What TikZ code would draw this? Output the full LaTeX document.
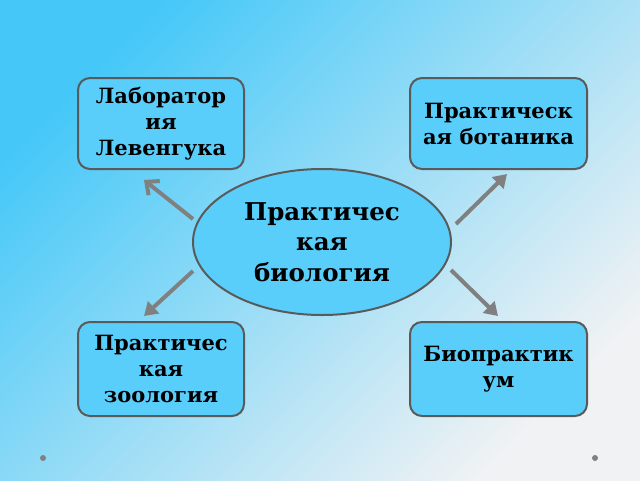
\documentclass[tikz,border=0pt]{standalone}
\usepackage{fontspec}
\setmainfont{DejaVu Serif}
\usetikzlibrary{arrows.meta, shapes.geometric}

\definecolor{bgblue}{RGB}{69,200,248}
\definecolor{bgwhite}{RGB}{240,242,244}
\definecolor{boxblue}{RGB}{90,206,250}
\definecolor{edgegray}{RGB}{90,90,90}
\definecolor{arrowgray}{RGB}{128,128,128}

\begin{document}
\begin{tikzpicture}[x=1pt, y=-1pt,
    topic/.style={draw=edgegray, line width=2pt, fill=boxblue, rounded corners=12pt,
        minimum width=166pt, minimum height=91pt, align=center,
        font=\bfseries\fontsize{21}{26}\selectfont},
    link/.style={draw=arrowgray, line width=4pt, -{Triangle[length=13pt,width=16pt]}}]
\useasboundingbox (0,0) rectangle (640,480);
\shade[top color=bgblue, bottom color=bgwhite, shading angle=45] (0,0) rectangle (640,480);

% arrow ends
\coordinate (L0) at (193,219);
\coordinate (L1) at (144,180);
\coordinate (R0) at (456,224);
\coordinate (R1) at (507,174);
\coordinate (Z0) at (193,271);
\coordinate (Z1) at (144,316);
\coordinate (P0) at (451,270);
\coordinate (P1) at (498,316);

% topics
\node[topic] (lab) at (161,123.5) {Лаборатор\\ия\\Левенгука};
\node[topic, minimum width=177pt] (bot) at (498.5,123.5) {Практическ\\ая ботаника};
\node[topic, minimum height=94pt] (zoo) at (161,369) {Практичес\\кая\\зоология};
\node[topic, minimum width=177pt, minimum height=94pt] (biop) at (498.5,369) {Биопрактик\\ум};

% centre
\node[ellipse, draw=edgegray, line width=2pt, fill=boxblue, minimum width=258pt,
    minimum height=146pt, align=center, font=\bfseries\fontsize{24.5}{30.5}\selectfont]
    (bio) at (322,242) {Практичес\\кая\\биология};

\draw[link, -{Straight Barb[length=10pt,width=18pt]}] (L0) -- (L1);
\draw[link] (R0) -- (R1);
\draw[link] (Z0) -- (Z1);
\draw[link] (P0) -- (P1);

\fill[arrowgray] (43,458) circle (3pt);
\fill[arrowgray] (595,458) circle (3pt);
\end{tikzpicture}
\end{document}
